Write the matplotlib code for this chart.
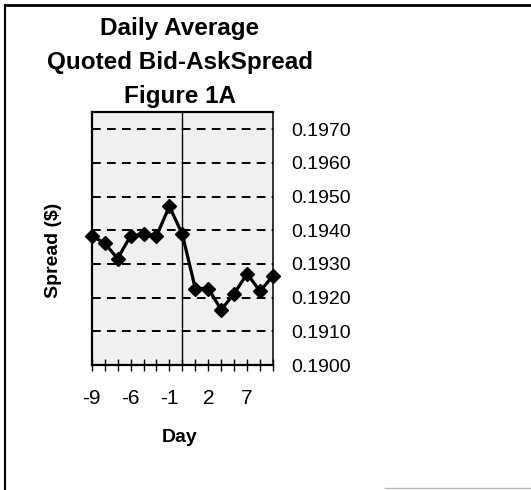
import matplotlib
matplotlib.use("Agg")
import matplotlib.pyplot as plt
from matplotlib.lines import Line2D

plt.rcParams['font.family'] = ['Liberation Sans', 'DejaVu Sans']

# Data
days = [-9, -8, -7, -6, -5, -3, -1, 0, 1, 2, 3, 5, 7, 9, 10]
spread = [0.19383, 0.19362, 0.19316, 0.19383, 0.19388, 0.19383, 0.19471,
          0.19388, 0.19227, 0.19227, 0.19164, 0.19212, 0.19271, 0.19219, 0.19265]
ytick_values = [0.1900, 0.1910, 0.1920, 0.1930, 0.1940, 0.1950, 0.1960, 0.1970]
ytick_labels = ["0.1900", "0.1910", "0.1920", "0.1930", "0.1940", "0.1950", "0.1960", "0.1970"]
title_lines = ["Daily Average", "Quoted Bid-AskSpread", "Figure 1A"]

W, H = 531, 490
fig = plt.figure(figsize=(W / 100, H / 100), dpi=100)

left, right, top, bottom = 91.7, 273, 111.7, 365
ax = fig.add_axes([left / W, 1 - bottom / H, (right - left) / W, (bottom - top) / H])
ax.set_facecolor('#f0f0f0')

x = list(range(len(days)))
ax.plot(x, spread, color='black', lw=2.3, marker='D', markersize=7.2,
        markerfacecolor='black', markeredgecolor='black', clip_on=False, zorder=5)

ax.set_xlim(0, len(days) - 1)
ax.set_ylim(0.1900, 0.19752)

# dashed gridlines
for v in ytick_values[1:]:
    ax.axhline(v, color='black', lw=1.4, dashes=(4.5, 3.2), zorder=1)
# vertical axis line at day 0
ax.axvline(days.index(0), color='black', lw=1.0, zorder=2)

for s in ax.spines.values():
    s.set_linewidth(1.6)
    s.set_color('black')
ax.spines['right'].set_linewidth(1.1)

ax.set_xticks(x)
ax.set_xticklabels([str(d) if i % 3 == 0 else "" for i, d in enumerate(days)])
ax.tick_params(axis='x', direction='inout', length=8, width=1.0, pad=13,
               labelsize=15, colors='black')

ax.yaxis.tick_right()
ax.set_yticks(ytick_values)
ax.set_yticklabels(ytick_labels)
ax.tick_params(axis='y', which='both', left=False, right=False, length=0, pad=13,
               labelsize=14, colors='black')

for i, line in enumerate(title_lines):
    fig.text(180 / W, 1 - (28 + 34.5 * i) / H, line, ha='center', va='center',
             fontsize=17.5, fontweight='bold')

fig.text(180 / W, 1 - 438 / H, "Day", ha='center', va='center', fontsize=14, fontweight='bold')
fig.text(53 / W, 1 - 250 / H, "Spread ($)", ha='center', va='center', rotation=90,
         fontsize=14, fontweight='bold')

# outer frame (top and left edges visible) and small bottom-right line
fig.add_artist(Line2D([5 / W, 5 / W], [0, 1 - 5 / H], transform=fig.transFigure, color='black', lw=1.5))
fig.add_artist(Line2D([5 / W, 1], [1 - 5 / H, 1 - 5 / H], transform=fig.transFigure, color='black', lw=2.0))
fig.add_artist(Line2D([385 / W, 1], [1 - 488 / H, 1 - 488 / H], transform=fig.transFigure, color='#bbbbbb', lw=1.0))

fig.savefig("out.png", dpi=100)
